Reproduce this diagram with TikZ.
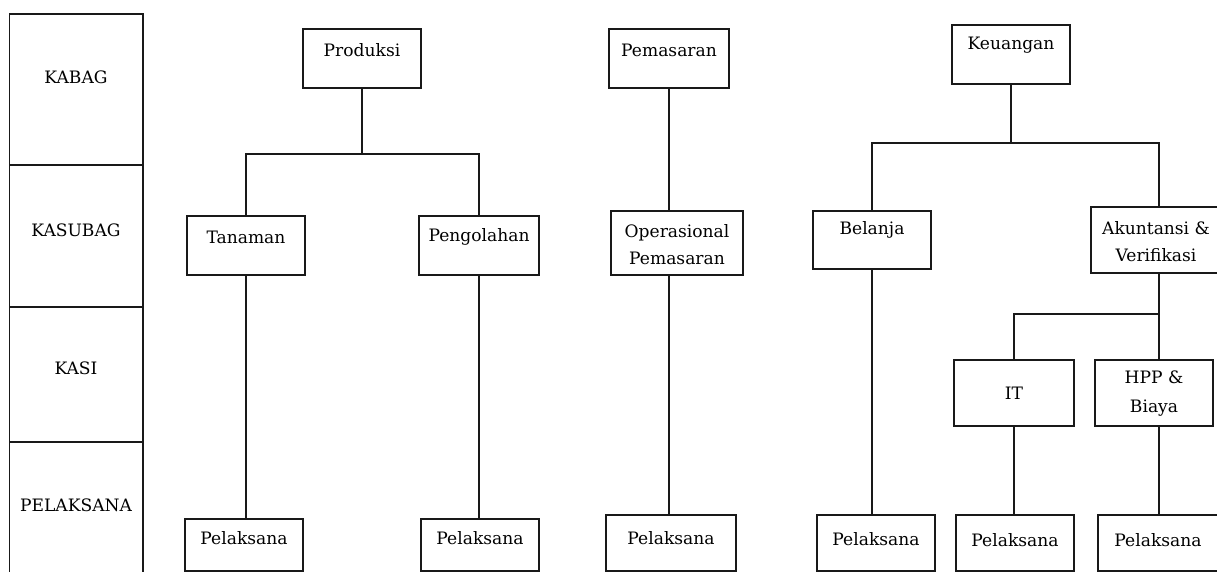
\documentclass[tikz,border=0pt]{standalone}
\usepackage{fontspec}
\setmainfont{DejaVu Serif}
\begin{document}
\begin{tikzpicture}[x=1pt,y=-1pt,
  bx/.style={draw=black!90,line width=1.6pt,inner sep=0pt,fill=white},
  txt/.style={font=\fontsize{17.1}{27}\selectfont,align=center,inner sep=0pt,text=black},
  ln/.style={draw=black!90,line width=1.6pt}]
\useasboundingbox (0,0) rectangle (1217,572);
\begin{scope}
\clip (0,0) rectangle (1217,572);
% left level column
\node[bx,minimum width=133.5pt,minimum height=151pt] (lvA) at (76.25,89.5) {};
\node[bx,minimum width=133.5pt,minimum height=142pt] (lvB) at (76.25,236) {};
\node[bx,minimum width=133.5pt,minimum height=135pt] (lvC) at (76.25,374.5) {};
\node[bx,minimum width=133.5pt,minimum height=150pt] (lvD) at (76.25,517) {};
\node[txt] at (76,77) {KABAG};
\node[txt] at (76,230) {KASUBAG};
\node[txt] at (76,368) {KASI};
\node[txt] at (76,505) {PELAKSANA};
% boxes
\newcommand\orgbox[5]{\node[bx,minimum width={#4-#2},minimum height={#5-#3}] (#1) at ({(#2+#4)/2},{(#3+#5)/2}) {};}
\orgbox{prod}{303}{29}{421}{88}
\orgbox{tan}{187}{216}{305}{275}
\orgbox{peng}{419}{216}{539}{275}
\orgbox{pelA}{185}{519}{303}{571}
\orgbox{pelB}{421}{519}{539}{571}
\orgbox{pem}{609}{29}{729}{88}
\orgbox{ops}{611}{211}{743}{275}
\orgbox{pelC}{606}{515}{736}{571}
\orgbox{keu}{952}{25}{1070}{84}
\orgbox{bel}{813}{211}{931}{269}
\orgbox{aku}{1091}{207}{1227}{273}
\orgbox{it}{954}{360}{1074}{426}
\orgbox{hpp}{1095}{360}{1213}{426}
\orgbox{pelD}{817}{515}{935}{571}
\orgbox{pelE}{956}{515}{1074}{571}
\orgbox{pelF}{1098}{515}{1218}{571}
% texts
\node[txt] at (362,50) {Produksi};
\node[txt] at (246,237) {Tanaman};
\node[txt] at (479,237) {Pengolahan};
\node[txt] at (244,538) {Pelaksana};
\node[txt] at (480,538) {Pelaksana};
\node[txt] at (669,50) {Pemasaran};
\node[txt] at (677,244.5) {Operasional\\Pemasaran};
\node[txt] at (671,538) {Pelaksana};
\node[txt] at (1011,45) {Keuangan};
\node[txt] at (872,230) {Belanja};
\node[txt] at (1156,241.5) {Akuntansi \&\\Verifikasi};
\node[txt] at (1014,393) {IT};
\node[txt] at (1154,393.5) {HPP \&\\[2pt]Biaya};
\node[txt] at (876,539) {Pelaksana};
\node[txt] at (1015,540) {Pelaksana};
\node[txt] at (1158,540) {Pelaksana};
% connectors
\coordinate (jP) at (prod.south |- 0,154);
\draw[ln] (prod.south) -- (jP);
\draw[ln] (tan.north) |- (jP) -| (peng.north);
\draw[ln] (tan.south) -- (tan.south |- pelA.north);
\draw[ln] (peng.south) -- (peng.south |- pelB.north);
\draw[ln] (pem.south) -- (pem.south |- ops.north);
\draw[ln] (ops.south -| pem.south) -- (pem.south |- pelC.north);
\coordinate (jK) at (keu.south |- 0,143);
\draw[ln] (keu.south) -- (jK);
\draw[ln] (bel.north) |- (jK) -| (aku.north);
\draw[ln] (bel.south) -- (bel.south |- pelD.north);
\coordinate (jA) at (aku.south |- 0,314);
\draw[ln] (aku.south) -- (aku.south |- hpp.north);
\draw[ln] (jA) -| (it.north);
\draw[ln] (it.south) -- (it.south |- pelE.north);
\draw[ln] (hpp.south -| aku.south) -- (aku.south |- pelF.north);
\end{scope}
\end{tikzpicture}
\end{document}
